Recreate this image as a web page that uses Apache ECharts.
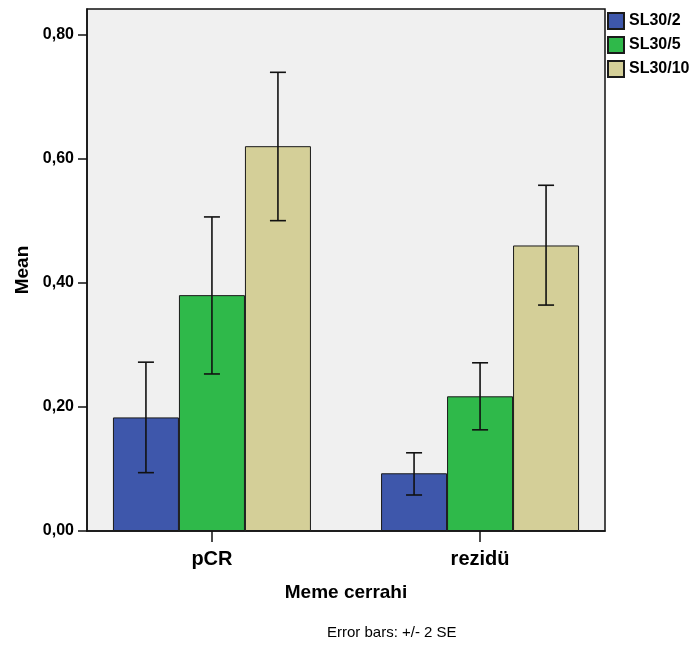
<!DOCTYPE html>
<html>
<head>
<meta charset="utf-8">
<script src="https://cdn.jsdelivr.net/npm/echarts@6/dist/echarts.min.js"></script>
<style>
html, body { margin: 0; padding: 0; background: #fff; }
#chartmain { width: 692px; height: 647px; }
</style>
</head>
<body>
<div id="chartmain"></div>
<script>
var categories = ['pCR', 'rezidü'];
var groups = ['SL30/2', 'SL30/5', 'SL30/10'];
var colors = ['#3e57ab', '#2fb94a', '#d4cf98'];
var yTicks = [0, 0.2, 0.4, 0.6, 0.8];

// means per group, one value per category
var mean_2 = [0.183, 0.093];
var mean_5 = [0.380, 0.217];
var mean_10 = [0.620, 0.460];
// error bars (+/- 2 SE), low and high ends
var low_2 = [0.094, 0.058];
var high_2 = [0.272, 0.126];
var low_5 = [0.253, 0.163];
var high_5 = [0.506, 0.271];
var low_10 = [0.500, 0.364];
var high_10 = [0.739, 0.557];

var means = [mean_2, mean_5, mean_10];
var lows = [low_2, low_5, low_10];
var highs = [high_2, high_5, high_10];

var font = '"Liberation Sans", Arial, sans-serif';
var barW = 66;

function fmt(v) {
	return v.toFixed(2).replace('.', ',');
}

var series = [];
for (var g = 0; g < groups.length; g++) {
	var d = [];
	for (var i = 0; i < categories.length; i++) {
		d.push([i, means[g][i]]);
	}
	series.push({
		name : groups[g],
		type : 'bar',
		barWidth : barW,
		barGap : '0%',
		data : d,
		itemStyle : {
			color : colors[g],
			borderColor : '#1a1a1a',
			borderWidth : 1
		},
		z : 2
	});
}
for (var g = 0; g < groups.length; g++) {
	var e = [];
	for (var i = 0; i < categories.length; i++) {
		e.push([i, lows[g][i], highs[g][i]]);
	}
	(function(off) {
		series.push({
			type : 'custom',
			data : e,
			z : 5,
			renderItem : function(params, api) {
				var lo = api.coord([api.value(0), api.value(1)]);
				var hi = api.coord([api.value(0), api.value(2)]);
				var x = lo[0] + off;
				var cap = 8;
				var st = { stroke : '#111', lineWidth : 1.6 };
				return {
					type : 'group',
					children : [
						{ type : 'line', shape : { x1 : x, y1 : lo[1], x2 : x, y2 : hi[1] }, style : st },
						{ type : 'line', shape : { x1 : x - cap, y1 : lo[1], x2 : x + cap, y2 : lo[1] }, style : st },
						{ type : 'line', shape : { x1 : x - cap, y1 : hi[1], x2 : x + cap, y2 : hi[1] }, style : st }
					]
				};
			}
		});
	})((g - 1) * barW);
}

var option = {
	animation : false,
	textStyle : { fontFamily : font },
	title : {
		text : 'Error bars: +/- 2 SE',
		left : 327,
		top : 625,
		padding : 0,
		textStyle : { fontFamily : font, fontSize : 15, fontWeight : 'normal', color : '#000' }
	},
	legend : {
		data : groups,
		orient : 'vertical',
		left : 607,
		top : 12,
		padding : 0,
		itemWidth : 16,
		itemHeight : 16,
		itemGap : 6,
		icon : 'rect',
		textStyle : { fontFamily : font, fontSize : 16, fontWeight : 'bold', color : '#000' }
	},
	grid : {
		left : 87,
		top : 9,
		width : 518,
		height : 522,
		show : true,
		backgroundColor : '#f0f0f0',
		borderColor : '#111',
		borderWidth : 1.5
	},
	xAxis : {
		type : 'value',
		min : -0.466,
		max : 1.466,
		splitLine : { show : false },
		axisLine : { show : true, onZero : false, lineStyle : { color : '#111', width : 1.5 } },
		axisTick : { show : true, length : 11, customValues : [0, 1], lineStyle : { color : '#111', width : 1.5 } },
		axisLabel : {
			customValues : [0, 1],
			margin : 18,
			fontFamily : font,
			fontSize : 20,
			fontWeight : 'bold',
			color : '#000',
			formatter : function(v) { return categories[Math.round(v)]; }
		},
		name : 'Meme cerrahi',
		nameLocation : 'middle',
		nameGap : 52,
		nameTextStyle : { fontFamily : font, fontSize : 19, fontWeight : 'bold', color : '#000' }
	},
	yAxis : {
		type : 'value',
		min : 0,
		max : 0.841,
		splitLine : { show : false },
		axisLine : { show : true, onZero : false, lineStyle : { color : '#111', width : 1.5 } },
		axisTick : { show : true, length : 9, customValues : yTicks, lineStyle : { color : '#111', width : 1.5 } },
		axisLabel : {
			customValues : yTicks,
			margin : 13,
			fontFamily : font,
			fontSize : 16,
			fontWeight : 'bold',
			color : '#000',
			formatter : fmt
		},
		name : 'Mean',
		nameLocation : 'middle',
		nameGap : 53,
		nameTextStyle : { fontFamily : font, fontSize : 19, fontWeight : 'bold', color : '#000' }
	},
	series : series
};

var myChart = echarts.init(document.getElementById('chartmain'));
myChart.setOption(option);
</script>
</body>
</html>
